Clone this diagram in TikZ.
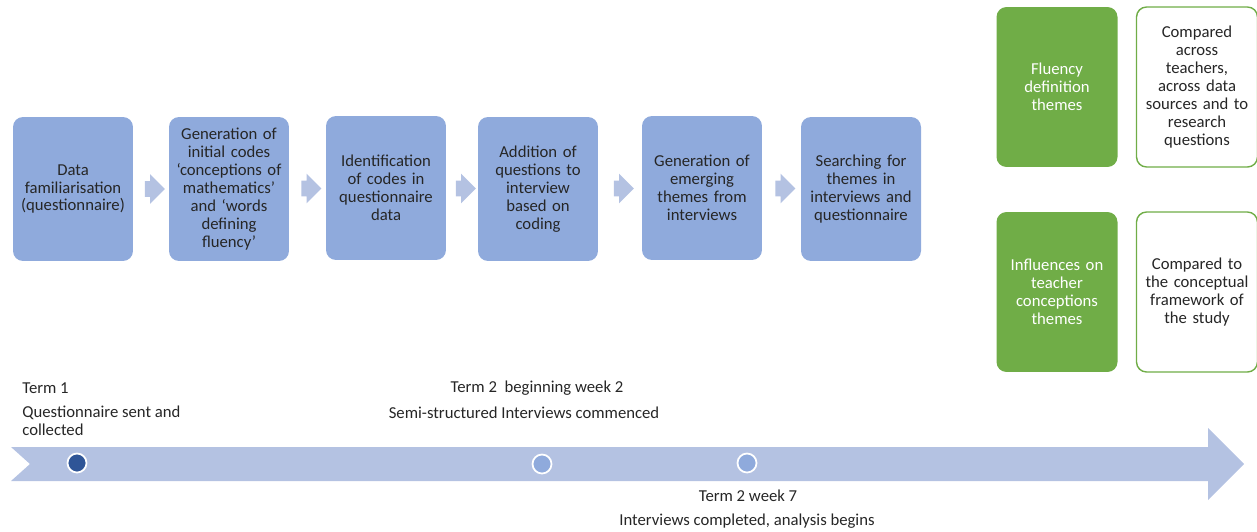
\documentclass[tikz,border=0pt]{standalone}
\usepackage{fontspec}
\setmainfont{Carlito}
\usetikzlibrary{shapes.arrows,positioning,calc}
\definecolor{stepblue}{HTML}{8FAADC}
\definecolor{paleblue}{HTML}{B4C2E2}
\definecolor{themegreen}{HTML}{70AD47}
\definecolor{navydot}{HTML}{2F5597}
\definecolor{inkgray}{HTML}{262626}
\tikzset{
  stepbox/.style={
    fill=stepblue,
    rounded corners=0.2cm,
    minimum width=2.4cm,
    minimum height=2.88cm,
    text width=2.3cm,
    align=center,
    inner sep=0pt,
    text=inkgray,
    font=\fontsize{9.5}{10.2}\selectfont
  },
  themebox/.style={
    stepbox,
    fill=themegreen,
    text=white,
    minimum width=2.42cm,
    minimum height=3.2cm
  },
  comparebox/.style={
    themebox,
    fill=white,
    draw=themegreen,
    line width=0.8pt,
    text=inkgray
  },
  flowchev/.style={
    single arrow,
    fill=paleblue,
    inner xsep=0pt,
    inner ysep=0.15cm,
    minimum height=0.4cm,
    single arrow head extend=0.14cm
  },
  timedot/.style={circle,draw=white,line width=1pt,minimum size=0.38cm,inner sep=0pt},
  timelabel/.style={inner sep=0pt,align=left,text=inkgray,font=\fontsize{9.5}{10.2}\selectfont}
}

\begin{document}
\begin{tikzpicture}[x=0.02cm,y=-0.02cm]
\useasboundingbox (0,0) rectangle (1257,531);

% analysis steps
\node[stepbox] (fam) at (73,189) {Data\\familiarisation\\(questionnaire)};
\node[stepbox] (init) at (229,189) {Generation of\\initial codes\\‘conceptions of\\mathematics’\\and ‘words\\defining\\fluency’};
\node[stepbox] (ident) at (386,188) {Identification\\of codes in\\questionnaire\\data};
\node[stepbox] (addq) at (538,189) {Addition of\\questions to\\interview\\based on\\coding};
\node[stepbox] (emerg) at (702,188) {Generation of\\emerging\\themes from\\interviews};
\node[stepbox] (search) at (861,189) {Searching for\\themes in\\interviews and\\questionnaire};

\node[flowchev] at ($(fam.east)!0.5!(init.west)$) {};
\node[flowchev] at ($(init.east)!0.5!(ident.west)$) {};
\node[flowchev] at ($(ident.east)!0.5!(addq.west)$) {};
\node[flowchev] at ($(addq.east)!0.5!(emerg.west)$) {};
\node[flowchev] at ($(emerg.east)!0.5!(search.west)$) {};

% themes
\node[themebox] (fluency) at (1057,87) {Fluency\\definition\\themes};
\node[comparebox] (across) at (1197,87) {Compared\\across\\teachers,\\across data\\sources and to\\research\\questions};
\node[themebox] (influ) at (1057,292) {Influences on\\teacher\\conceptions\\themes};
\node[comparebox] (frame) at (1197,292) {Compared to\\the conceptual\\framework of\\the study};

% timeline
\fill[paleblue] (11,447) -- (1208,447) -- (1208,428) -- (1244,464) -- (1208,500)
  -- (1208,481) -- (11,481) -- (30,464) -- cycle;
\node[timedot,fill=navydot] (d1) at (77,463) {};
\node[timedot,fill=stepblue] (d2) at (542,464) {};
\node[timedot,fill=stepblue] (d3) at (747,463) {};

\node[timelabel,anchor=west] (t1) at (22,388) {Term 1};
\node[timelabel,anchor=west] (q1) at (22,421) {Questionnaire sent and\\collected};
\node[timelabel] (t2) at (537,388) {Term 2\ \ beginning week 2};
\node[timelabel] (q2) at (524,413) {Semi-structured Interviews commenced};
\node[timelabel] (t3) at (748,496) {Term 2 week 7};
\node[timelabel] (q3) at (747,521) {Interviews completed, analysis begins};
\end{tikzpicture}
\end{document}
